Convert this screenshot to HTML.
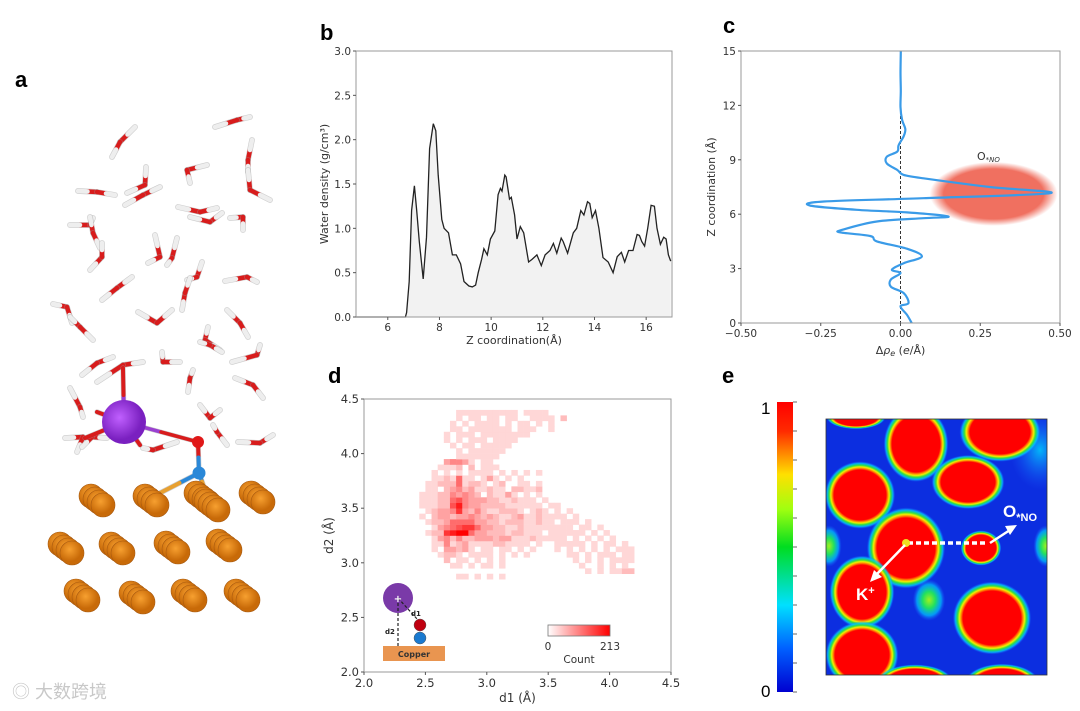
<!DOCTYPE html>
<html><head><meta charset="utf-8">
<style>
html,body{margin:0;padding:0;background:#fff;}
svg{display:block;font-family:"DejaVu Sans","Liberation Sans",sans-serif;}
.tk{font-size:10.5px;fill:#333;}
.lab{font-size:11px;fill:#333;}
.pl{font-size:22px;font-weight:bold;font-family:"Liberation Sans",sans-serif;fill:#000;}
</style></head>
<body>
<svg id="fig" width="1080" height="711" viewBox="0 0 1080 711" xmlns="http://www.w3.org/2000/svg">
<defs>
  <radialGradient id="blob">
    <stop offset="0" stop-color="#ff0000"/>
    <stop offset="0.74" stop-color="#ff0000"/>
    <stop offset="0.79" stop-color="#ff8a00"/>
    <stop offset="0.83" stop-color="#f0f000"/>
    <stop offset="0.88" stop-color="#30e040"/>
    <stop offset="0.94" stop-color="#00c8ff" stop-opacity="0.8"/>
    <stop offset="1" stop-color="#2060ff" stop-opacity="0"/>
  </radialGradient>
  <radialGradient id="gspot">
    <stop offset="0" stop-color="#a0f020"/>
    <stop offset="0.4" stop-color="#20e060"/>
    <stop offset="0.75" stop-color="#00c8ff" stop-opacity="0.7"/>
    <stop offset="1" stop-color="#2060ff" stop-opacity="0"/>
  </radialGradient>
  <radialGradient id="cspot">
    <stop offset="0" stop-color="#00d8ff" stop-opacity="0.8"/>
    <stop offset="1" stop-color="#2060ff" stop-opacity="0"/>
  </radialGradient>
  <linearGradient id="jet" x1="0" y1="0" x2="0" y2="1">
    <stop offset="0" stop-color="#ff0000"/>
    <stop offset="0.1" stop-color="#ff2a00"/>
    <stop offset="0.25" stop-color="#ffe000"/>
    <stop offset="0.37" stop-color="#a0ff10"/>
    <stop offset="0.5" stop-color="#00dd20"/>
    <stop offset="0.7" stop-color="#00e0ff"/>
    <stop offset="0.85" stop-color="#0060ff"/>
    <stop offset="1" stop-color="#0000d0"/>
  </linearGradient>
  <radialGradient id="kgrad" cx="0.4" cy="0.4">
    <stop offset="0" stop-color="#c060ff"/>
    <stop offset="1" stop-color="#7a20c0"/>
  </radialGradient>
  <radialGradient id="cugrad" cx="0.4" cy="0.35">
    <stop offset="0" stop-color="#f7a030"/>
    <stop offset="1" stop-color="#c86a08"/>
  </radialGradient>
  <radialGradient id="ellGlow">
    <stop offset="0" stop-color="#f07060"/>
    <stop offset="0.78" stop-color="#f07060"/>
    <stop offset="1" stop-color="#f07060" stop-opacity="0"/>
  </radialGradient>
  <linearGradient id="cbd" x1="0" y1="0" x2="1" y2="0">
    <stop offset="0" stop-color="#ffffff"/>
    <stop offset="1" stop-color="#ff0000"/>
  </linearGradient>
  <clipPath id="clipE"><rect x="826" y="419" width="221" height="256"/></clipPath>
  <clipPath id="clipC"><rect x="741" y="51" width="319" height="272"/></clipPath>
</defs>

<text class="pl" x="15" y="87">a</text>
<text class="pl" x="320" y="40">b</text>
<text class="pl" x="723" y="33">c</text>
<text class="pl" x="328" y="383">d</text>
<text class="pl" x="722" y="383">e</text>

<g id="panelA"></g>
<g id="panelB"></g>
<g id="panelC"></g>
<g id="panelD"></g>
<g id="panelE"></g>

<text x="12" y="698" style="font-size:18px;fill:#c8c8c8;font-family:'Liberation Sans','Noto Sans CJK SC',sans-serif;">◎ 大数跨境</text>
</svg>

<script>
const NS='http://www.w3.org/2000/svg';
function mk(parent,tag,attrs,text){const e=document.createElementNS(NS,tag);for(const k in attrs)e.setAttribute(k,attrs[k]);if(text!==undefined)e.textContent=text;parent.appendChild(e);return e;}

/* ---------------- Panel B data ---------------- */
const bZ=[4.77,6.68,6.73,6.83,6.92,7.03,7.12,7.22,7.37,7.5,7.62,7.76,7.86,7.95,8.09,8.18,8.35,8.5,8.65,8.82,8.95,9.14,9.27,9.4,9.5,9.63,9.72,9.85,9.97,10.14,10.27,10.36,10.42,10.53,10.58,10.71,10.78,10.91,11.0,11.13,11.26,11.45,11.58,11.77,11.94,12.09,12.28,12.41,12.54,12.71,12.79,12.96,13.18,13.31,13.47,13.59,13.73,13.82,13.91,14.04,14.17,14.33,14.53,14.72,14.88,15.04,15.17,15.32,15.49,15.65,15.74,15.83,15.94,16.06,16.19,16.32,16.42,16.55,16.68,16.77,16.86,16.95];
const bDensity=[0,0,0.05,0.4,1.2,1.48,1.2,0.85,0.43,0.9,1.9,2.18,2.1,1.6,1.1,1.0,0.95,0.7,0.7,0.6,0.4,0.35,0.34,0.36,0.5,0.65,0.77,0.7,0.88,0.97,1.38,1.45,1.42,1.6,1.58,1.33,1.35,1.15,0.88,1.02,0.95,0.62,0.65,0.7,0.58,0.7,0.75,0.83,0.72,0.89,0.85,0.72,0.95,1.0,1.2,1.15,1.3,1.28,1.12,1.2,1.0,0.67,0.62,0.5,0.68,0.73,0.62,0.75,0.75,0.93,0.92,0.85,0.8,1.0,1.26,1.25,1.0,0.82,0.9,0.88,0.7,0.63];
const bXTicks=[6,8,10,12,14,16];
const bYTicks=[0.0,0.5,1.0,1.5,2.0,2.5,3.0];

(function(){
 const g=document.getElementById('panelB');
 const L=356,R=672,T=51,B=317,x0=4.77,x1=17,y0=0,y1=3;
 const sx=v=>L+(v-x0)/(x1-x0)*(R-L), sy=v=>B-(v-y0)/(y1-y0)*(B-T);
 let d='M'+sx(bZ[0])+','+sy(bDensity[0]);
 for(let i=1;i<bZ.length;i++)d+=' L'+sx(bZ[i]).toFixed(1)+','+sy(bDensity[i]).toFixed(1);
 const fill=mk(g,'path',{d:d+' L'+sx(bZ[bZ.length-1])+','+B+' L'+sx(bZ[0])+','+B+'Z',fill:'#f2f2f2',stroke:'none'});
 
 
 const ln=mk(g,'path',{d:d,fill:'none',stroke:'#222','stroke-width':1.3});
 
 
 const fr=mk(g,'rect',{x:L,y:T,width:R-L,height:B-T,fill:'none',stroke:'#999','stroke-width':1});
 
 
 bXTicks.forEach(v=>{mk(g,'line',{x1:sx(v),x2:sx(v),y1:B,y2:B+3,stroke:'#555'});
   const t=mk(g,'text',{x:sx(v),y:B+14,'text-anchor':'middle',class:'tk'},String(v));
   
   });
 bYTicks.forEach(v=>{mk(g,'line',{x1:L-3,x2:L,y1:sy(v),y2:sy(v),stroke:'#555'});
   const t=mk(g,'text',{x:L-5,y:sy(v)+4,'text-anchor':'end',class:'tk'},v.toFixed(1));
   
   });
 const xl=mk(g,'text',{x:(L+R)/2,y:344,'text-anchor':'middle',class:'lab'},'Z coordination(Å)');
 
 
 const yl=mk(g,'text',{x:0,y:0,'text-anchor':'middle',class:'lab',transform:'translate(328,'+(T+B)/2+') rotate(-90)'},'Water density (g/cm³)');
 
 
})();

/* ---------------- Panel C data ---------------- */
const cZ=[0,0.46,0.92,1.1,1.65,2.0,2.4,2.75,2.94,3.3,3.67,4.1,4.5,4.8,5.0,5.15,5.6,5.78,5.87,6.1,6.24,6.48,6.7,6.88,7.16,7.5,7.98,8.17,8.44,8.8,9.17,9.45,9.8,10.3,10.7,11.2,11.9,12.8,13.8,15];
const cDelta=[0.035,0.02,0,0.025,0.01,-0.03,-0.03,0,-0.027,0.01,0.067,0.02,-0.074,-0.095,-0.19,-0.18,-0.074,0.072,0.15,0.02,-0.137,-0.284,-0.24,0.072,0.469,0.28,0.072,0.01,-0.01,-0.043,-0.043,-0.01,-0.006,0.01,0.015,0.005,0,0.001,0,0.001];
const cXTicks=[-0.5,-0.25,0,0.25,0.5];
const cXTickLabels=['−0.50','−0.25','0.00','0.25','0.50'];
const cYTicks=[0,3,6,9,12,15];
const cHighlight=[0.292,7.12];

(function(){
 const g=document.getElementById('panelC');
 const L=741,R=1060,T=51,B=323;
 const sx=v=>L+(v+0.5)*(R-L), sy=v=>B-v/15*(B-T);
 const cl=mk(g,'g',{'clip-path':'url(#clipC)'});
 const el=mk(cl,'ellipse',{cx:sx(cHighlight[0]),cy:sy(cHighlight[1]),rx:64,ry:32,fill:'url(#ellGlow)'});
 
 
 const zl=mk(g,'line',{x1:sx(0),x2:sx(0),y1:T,y2:B,stroke:'#333','stroke-dasharray':'3,2','stroke-width':1});
 
 
 const P=cZ.map((z,i)=>[sx(cDelta[i]),sy(z)]);
 let d='M'+P[0][0]+','+P[0][1];
 for(let i=0;i<P.length-1;i++){const p0=P[Math.max(0,i-1)],p1=P[i],p2=P[i+1],p3=P[Math.min(P.length-1,i+2)];
  const c1=[p1[0]+(p2[0]-p0[0])/6,p1[1]+(p2[1]-p0[1])/6],c2=[p2[0]-(p3[0]-p1[0])/6,p2[1]-(p3[1]-p1[1])/6];
  d+=' C'+c1[0].toFixed(1)+','+c1[1].toFixed(1)+' '+c2[0].toFixed(1)+','+c2[1].toFixed(1)+' '+p2[0].toFixed(1)+','+p2[1].toFixed(1);}
 const ln=mk(g,'path',{d:d,fill:'none',stroke:'#3a9be8','stroke-width':2.2});
 
 
 mk(g,'rect',{x:L,y:T,width:R-L,height:B-T,fill:'none',stroke:'#999'});
 cXTicks.forEach((v,i)=>{mk(g,'line',{x1:sx(v),x2:sx(v),y1:B,y2:B+3,stroke:'#555'});
   const t=mk(g,'text',{x:sx(v),y:B+14,'text-anchor':'middle',class:'tk'},cXTickLabels[i]);
   
   });
 cYTicks.forEach(v=>{mk(g,'line',{x1:L-3,x2:L,y1:sy(v),y2:sy(v),stroke:'#555'});
   const t=mk(g,'text',{x:L-5,y:sy(v)+4,'text-anchor':'end',class:'tk'},String(v));
   
   });
 const xl=mk(g,'text',{x:(L+R)/2,y:354,'text-anchor':'middle',class:'lab'},'Δρ');
 xl.innerHTML='Δ<tspan font-style="italic">ρ</tspan><tspan font-size="8" dy="2" font-style="italic">e</tspan><tspan dy="-2"> (</tspan><tspan font-style="italic">e</tspan>/Å)';
 
 
 const yl=mk(g,'text',{x:0,y:0,'text-anchor':'middle',class:'lab',transform:'translate(715,'+(T+B)/2+') rotate(-90)'},'Z coordination (Å)');
 
 
 const ol=mk(g,'text',{x:977,y:160,class:'lab'},'O');
 ol.innerHTML='O<tspan font-size="7" font-style="italic" dy="2">*NO</tspan>';
 
 
})();

/* ---------------- Panel D data ---------------- */
const dBinX0=2.45, dBinY0=2.85, dBin=0.05;
const dCountRows=[ // from y=2.85 (bottom) upward, columns from x=2.45; digits = count level 0-9
"......11.1.1.1.......................",
"...........................1.1.1122..",
".....11.1.11.1............1..1.1.1...",
"....2.11.1.1.1...........1.1.1.1111..",
"...1221.1111.1.1.1......11.1.111.11..",
"..1.33231.11.11.1.1...1.1.1.1.1.111..",
"..1141231111221111.1..11111.1.11.1...",
"..1342422333233111211111.1.1.1.1.....",
".1227899533222122111.111111.1.1......",
"..13456775332211211111111.11.1.......",
".122355553322122211211.111.1.........",
"1.2332334323211231121111.1...........",
".1233473242112221.121.1.1............",
"11122684332222111111.11..............",
"1112256433322112111.1................",
"1112243432.21131.1.1.................",
".11.2342311211.22112.................",
".1122251221.12..11.1.................",
"..1121511.131.1.1....................",
"..1.1.1.1111.1.1.1.1.................",
"...1112.2.111........................",
"....34431.11.........................",
"......1111111........................",
"......1.111111.......................",
".....1.11.11111......................",
"....1.1.111.1111.....................",
"....1.111.11111111...................",
".....11.1111111.111..1...............",
".....1.1.1111.1.11.1.1...............",
"......1.11.11.11..1111.2.............",
"......1111111111.1111................"
];
const dXTicks=[2.0,2.5,3.0,3.5,4.0,4.5];
const dYTicks=[2.0,2.5,3.0,3.5,4.0,4.5];
const dCountMax=213;

(function(){
 const g=document.getElementById('panelD');
 const L=364,R=671,T=399,B=672;
 const sx=v=>L+(v-2)/2.5*(R-L), sy=v=>B-(v-2)/2.5*(B-T);
 dCountRows.forEach((row,j)=>{for(let i=0;i<row.length;i++){const c=row[i];if(c==='.')continue;
   const lv=+c; const t=Math.min(1,0.05+lv/9*0.95); const gb=Math.round(255*(1-t));
   const x=dBinX0+i*dBin, y=dBinY0+j*dBin;
   const r=mk(g,'rect',{x:sx(x).toFixed(2),y:sy(y+dBin).toFixed(2),width:(sx(x+dBin)-sx(x)+0.3).toFixed(2),height:(sy(y)-sy(y+dBin)+0.3).toFixed(2),fill:'rgb(255,'+gb+','+gb+')'});
   
   }});
 mk(g,'rect',{x:L,y:T,width:R-L,height:B-T,fill:'none',stroke:'#999'});
 dXTicks.forEach(v=>{mk(g,'line',{x1:sx(v),x2:sx(v),y1:B,y2:B+3,stroke:'#555'});
   const t=mk(g,'text',{x:sx(v),y:B+15,'text-anchor':'middle',class:'tk',style:'font-size:11.5px'},v.toFixed(1));
   
   });
 dYTicks.forEach(v=>{mk(g,'line',{x1:L-3,x2:L,y1:sy(v),y2:sy(v),stroke:'#555'});
   const t=mk(g,'text',{x:L-5,y:sy(v)+4,'text-anchor':'end',class:'tk',style:'font-size:11.5px'},v.toFixed(1));
   
   });
 const xl=mk(g,'text',{x:(L+R)/2,y:702,'text-anchor':'middle',class:'lab',style:'font-size:12px'},'d1 (Å)');
 
 
 const yl=mk(g,'text',{x:0,y:0,'text-anchor':'middle',class:'lab',style:'font-size:12px',transform:'translate(333,'+(T+B)/2+') rotate(-90)'},'d2 (Å)');
 
 
 const cb=mk(g,'rect',{x:548,y:625,width:62,height:11,fill:'url(#cbd)',stroke:'#777','stroke-width':0.8});
 
 
 mk(g,'text',{x:548,y:650,'text-anchor':'middle',class:'tk'},'0');
 mk(g,'text',{x:610,y:650,'text-anchor':'middle',class:'tk'},String(dCountMax));
 mk(g,'text',{x:579,y:663,'text-anchor':'middle',class:'tk'},'Count');
 const ins=mk(g,'g',{});
 
 
 mk(ins,'rect',{x:383,y:646,width:62,height:15,fill:'#e99550'});
 mk(ins,'text',{x:414,y:657,'text-anchor':'middle',style:'font-size:8px;font-weight:bold;fill:#333'},'Copper');
 mk(ins,'circle',{cx:398,cy:598,r:15,fill:'#7a3aa8'});
 mk(ins,'line',{x1:398,y1:598,x2:398,y2:646,stroke:'#222','stroke-dasharray':'3,2','stroke-width':1.2});
 mk(ins,'line',{x1:398,y1:598,x2:418,y2:620,stroke:'#222','stroke-dasharray':'3,2','stroke-width':1.2});
 mk(ins,'text',{x:398,y:602,'text-anchor':'middle',style:'font-size:10px;fill:#fff;font-weight:bold'},'+');
 mk(ins,'circle',{cx:420,cy:625,r:6,fill:'#c00010',stroke:'#555','stroke-width':0.5});
 mk(ins,'circle',{cx:420,cy:638,r:6,fill:'#1a7ad0',stroke:'#555','stroke-width':0.5});
 mk(ins,'text',{x:411,y:616,style:'font-size:7px;font-weight:bold;fill:#222'},'d1');
 mk(ins,'text',{x:385,y:634,style:'font-size:7px;font-weight:bold;fill:#222'},'d2');
})();

/* ---------------- Panel E ---------------- */
const eBlobs=[ // cx, cy, rx, ry of red cores
[856,417,22,9],[916,444,24,28],[1000,432,30,22],[860,495,26,25],[968,482,27,20],[906,548,29,30],[981,548,15,13],[862,592,24,27],[992,618,29,27],[862,655,27,25],[915,682,28,13],[1002,684,28,15]];
const eGreenSpots=[[929,600,9,13],[829,546,7,13],[1046,546,7,13]];
(function(){
 const g=document.getElementById('panelE');
 const cb=mk(g,'rect',{x:777,y:402,width:16,height:290,fill:'url(#jet)'});
 
 
 for(let i=0;i<=10;i++){mk(g,'line',{x1:793,x2:797,y1:402+i*29,y2:402+i*29,stroke:'#666','stroke-width':1});}
 mk(g,'text',{x:761,y:414,style:'font-size:17px;fill:#000;font-family:Liberation Sans,sans-serif'},'1');
 mk(g,'text',{x:761,y:697,style:'font-size:17px;fill:#000;font-family:Liberation Sans,sans-serif'},'0');
 const m=mk(g,'g',{'clip-path':'url(#clipE)'});
 mk(m,'rect',{x:826,y:419,width:221,height:256,fill:'#0c2ee0'});
 mk(m,'ellipse',{cx:1040,cy:450,rx:30,ry:40,fill:'url(#cspot)'});
 eGreenSpots.forEach(s=>{const e=mk(m,'ellipse',{cx:s[0],cy:s[1],rx:s[2]*1.8,ry:s[3]*1.6,fill:'url(#gspot)'});
   
   });
 eBlobs.forEach(b=>{const e=mk(m,'ellipse',{cx:b[0],cy:b[1],rx:b[2]/0.74,ry:b[3]/0.74,fill:'url(#blob)'});
   
   });
 mk(g,'rect',{x:826,y:419,width:221,height:256,fill:'none',stroke:'#333','stroke-width':0.8});
 const dl=mk(g,'line',{x1:908,y1:543,x2:988,y2:543,stroke:'#fff','stroke-width':3.5,'stroke-dasharray':'5,3'});
 
 
 mk(g,'circle',{cx:906,cy:543,r:4,fill:'#f0e020'});
 mk(g,'line',{x1:905,y1:545,x2:876,y2:575,stroke:'#fff','stroke-width':2.5});
 mk(g,'path',{d:'M870,582 L874,570 L882,577 Z',fill:'#fff'});
 mk(g,'line',{x1:990,y1:543,x2:1010,y2:530,stroke:'#fff','stroke-width':2.5});
 mk(g,'path',{d:'M1017,525 L1005,526 L1010,535 Z',fill:'#fff'});
 const kl=mk(g,'text',{x:856,y:600,style:'font-size:17px;font-weight:bold;fill:#fff;font-family:Liberation Sans,sans-serif'},'K');
 kl.innerHTML='K<tspan font-size="11" dy="-6">+</tspan>';
 
 
 const ol=mk(g,'text',{x:1003,y:517,style:'font-size:17px;font-weight:bold;fill:#fff;font-family:Liberation Sans,sans-serif'},'O');
 ol.innerHTML='O<tspan font-size="11" dy="4">*NO</tspan>';
 
 
})();

/* ---------------- Panel A (molecular snapshot) ---------------- */
const waters=[
[120,142,135,127,112,157],[237,120,250,117,215,127],[248,160,252,140,248,172],[250,190,248,170,270,200],
[187,170,207,165,190,183],[97,192,78,191,115,195],[145,185,146,167,127,193],[143,195,160,187,125,205],
[200,212,178,207,217,208],[210,222,222,213,190,217],[243,217,230,218,243,230],[90,225,70,225,93,218],
[93,233,90,217,100,248],[102,257,90,270,102,243],[160,257,155,235,148,263],[172,258,177,238,167,265],
[117,288,132,277,102,300],[197,277,202,262,187,280],[185,293,182,310,190,278],[247,277,225,281,257,282],
[67,307,53,304,72,323],[80,327,70,317,93,340],[157,323,138,312,172,310],[240,323,227,310,248,337],
[205,340,208,327,220,350],[97,363,113,357,82,375],[123,365,143,362,97,382],[163,362,162,352,180,362],
[190,378,193,370,188,392],[210,345,222,352,200,342],[257,355,260,345,232,362],[253,385,235,378,263,398],
[80,407,70,388,83,417],[83,437,65,438,77,452],[153,450,177,442,143,448],[210,418,200,405,220,410],
[217,432,227,445,213,425],[260,443,273,435,238,442],[92,437,107,438,82,447]];
const copper=[[103,505],[157,505],[208,502],[218,510],[263,502],[72,553],[123,553],[178,552],[230,550],[88,600],[143,602],[195,600],[248,600]];
(function(){
 const g=document.getElementById('panelA');
 function bond(x1,y1,x2,y2,c1,c2,w){const mx=(x1+x2)/2,my=(y1+y2)/2;
   mk(g,'line',{x1:x1,y1:y1,x2:x2,y2:y2,stroke:'#999','stroke-width':w+1.2,'stroke-linecap':'round','stroke-opacity':0.5});
   mk(g,'line',{x1:x1,y1:y1,x2:mx,y2:my,stroke:c1,'stroke-width':w,'stroke-linecap':'round'});
   mk(g,'line',{x1:mx,y1:my,x2:x2,y2:y2,stroke:c2,'stroke-width':w,'stroke-linecap':'round'});}
 waters.forEach(w=>{bond(w[0],w[1],w[2],w[3],'#d81c1c','#eeeeee',4.5);bond(w[0],w[1],w[4],w[5],'#d81c1c','#eeeeee',4.5);});
 const K=[124,422];
 [[123,368],[97,412],[85,438],[140,445]].forEach(p=>bond(K[0],K[1],p[0],p[1],'#9a40d0','#d81c1c',4));
 bond(K[0],K[1],198,442,'#9a40d0','#d81c1c',3.5);
 bond(199,473,160,493,'#2a88d8','#e8a030',4);
 bond(199,473,205,490,'#2a88d8','#e8a030',4);
 bond(198,442,199,473,'#d81c1c','#2a88d8',4);
 copper.forEach(c=>{for(let k=3;k>=0;k--){const s=mk(g,'circle',{cx:c[0]-k*4,cy:c[1]-k*3,r:12,fill:'url(#cugrad)',stroke:'#a85a10','stroke-width':0.6});
   if(k===0){
   }}});
 const k=mk(g,'circle',{cx:K[0],cy:K[1],r:22,fill:'url(#kgrad)'});
 
 
 const o=mk(g,'circle',{cx:198,cy:442,r:6,fill:'#e01818'});
 
 
 const n=mk(g,'circle',{cx:199,cy:473,r:6.5,fill:'#2a88d8'});
 
 
})();
</script>
</body></html>
